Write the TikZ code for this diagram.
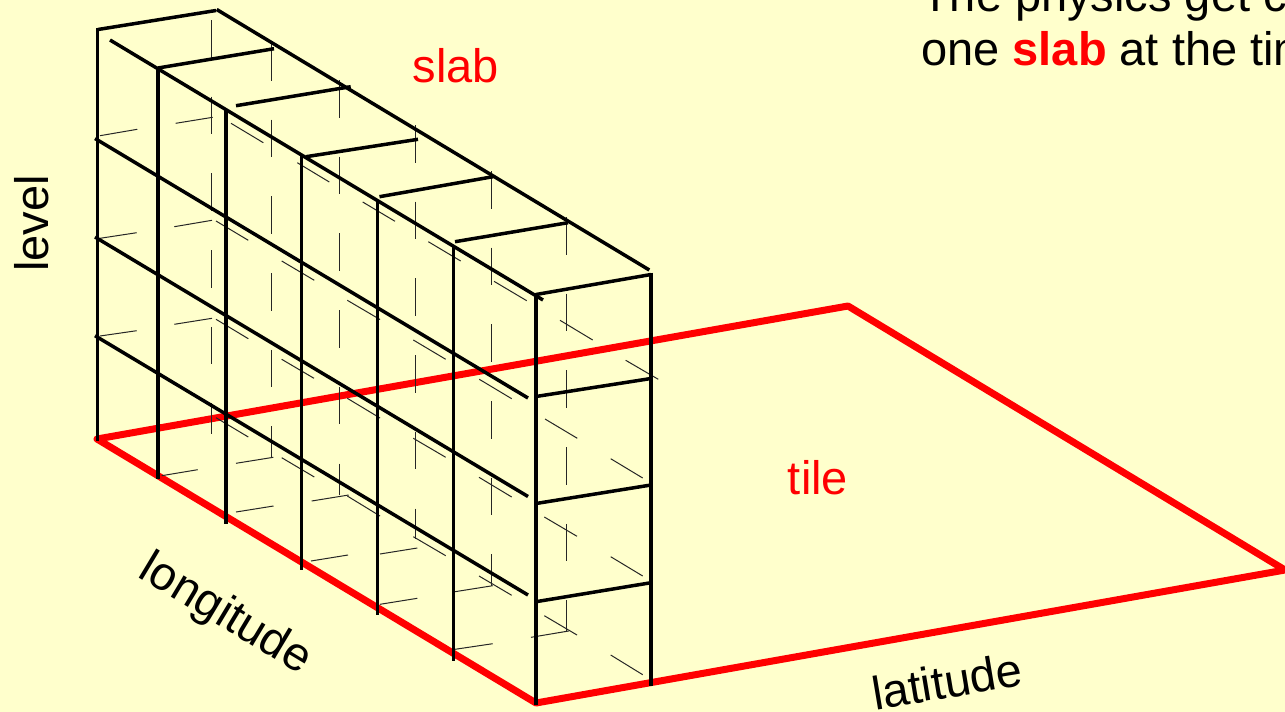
\documentclass[tikz,border=0pt]{standalone}
\usepackage{fontspec}
\setmainfont{Liberation Sans}
\definecolor{bgc}{HTML}{FFFFCC}
\tikzset{
 thickline/.style={line width=3.5pt,black},
 thinline/.style={line width=1pt,black!85},
 redline/.style={line width=7pt,red,line join=round,line cap=round},
 lab/.style={inner sep=0pt,font=\fontsize{47}{47}\selectfont},
}
\newcommand{\thinset}[1]{\foreach \a/\b/\c/\d in {#1} \draw[thinline] (\a,\b)--(\c,\d);}
\begin{document}
\begin{tikzpicture}[x=1pt,y=-1pt]
\useasboundingbox (0,0) rectangle (1285,712);
\fill[bgc] (0,0) rectangle (1285,712);
% tile
\draw[redline] (97,439)--(848,306)--(1285,570)--(536,703)--cycle;
% dashed verticals
\foreach \x/\y/\n in {211/20/4,271.7/43/4,339.7/80/4,415.3/125/4,491/171/4,566.7/217/4}{
  \foreach \s in {0,...,\n} \draw[thinline] (\x,{\y+76.7*\s})--(\x,{\y+76.7*\s+37.5});
}
\draw[thinline] (211,403.3)--(211,434);
\draw[thinline] (271.7,426.3)--(271.7,457);
\draw[thinline] (339.7,463.5)--(339.7,495);
\draw[thinline] (415.3,508.5)--(415.3,539);
\draw[thinline] (491,554)--(491,586);
\draw[thinline] (566.7,600)--(566.7,631);
% ticks
\thinset{100/135.7/137.3/129.3,100/238.3/136.7/232.7,100/336/136.7/330.7,
 175.7/123.3/212.7/117.3,174.3/226.7/212/220.3,174.3/324.3/212/318.3,
 161.7/475.7/197.7/469.7,236/463.3/273.3/457.3,236/512/273.5/506,
 311.7/501/348.7/495,311/561/348/555,380/554/417.3/548,380/604.3/417.3/598.3,
 455/591.7/492.7/585.7,455/649.3/492.7/643.7,531/637.3/568.7/631}
\thinset{231/123.3/263.3/142.7,297.3/162.7/329.3/182,362.7/202/395/221.3,428.3/241.7/460.7/261,494/281.3/526.7/300.7,560/320.3/592.7/340,625.7/360.3/658.3/379.3,
 216/221/248.3/240.3,281.7/261/314.3/280.3,347.3/300.3/380/319.5,413.3/340/445.7/359.3,479.3/379.3/511.7/398.7,545/419/577.3/438.3,610.7/458.7/642.7/478,
 216/319.3/248.3/338.7,281.7/359.3/314/378.3,347.3/398.3/380/418,413.3/438.3/445.7/457.3,479/477.3/511.7/497,544.3/517/577/536.3,610.7/556.7/642.7/576,
 216/417.7/248.3/437,281.7/457.7/314.3/477,347.3/496/380/516,413.3/536.7/445.7/555.7,479/576/511.7/595.3,544.3/615.7/577/635,610.7/655/642.7/674.7}
% thick lines
\foreach \x/\a/\b in {97.5/28/441,158/67/479,226/110/524,301.7/156/570,377.5/200/615,453.3/246/661,536/293/705,651/272.5/686}
  \draw[thickline] (\x,\a)--(\x,\b);
\foreach \a/\b/\c/\d in {110/40/543/300,216.7/9.5/649.3/270,
 98/29.5/216/10.5,158/68/274/48.7,236/105.7/350.7/86.7,306/156.7/418/139.3,379.5/196.7/493/176.7,455/241.7/568/222.7,536/294.5/651/274.5,
 95/138.5/528/398,95/237/528/496.5,95/335.7/528/595,
 536/396.5/651/378.5,536/503.5/651/485,536/601.7/651/582.7}
  \draw[thickline] (\a,\b)--(\c,\d);
% labels
\node[lab,text=red] (slab) at (456,66) {slab};
\node[lab,text=red] (tile) at (818,478) {tile};
\node[lab,rotate=90] (level) at (32,223.5) {level};
\node[lab,rotate=-31] (lon) at (225,615) {longitude};
\node[lab,rotate=9.5] (lat) at (947,681) {latitude};
\node[lab,anchor=base west] (l1) at (921,11.7) {The physics get c};
\node[lab,anchor=base west] (l2) at (921,65.7) {one \textcolor{red}{\textbf{slab}} at the time};
\end{tikzpicture}
\end{document}
